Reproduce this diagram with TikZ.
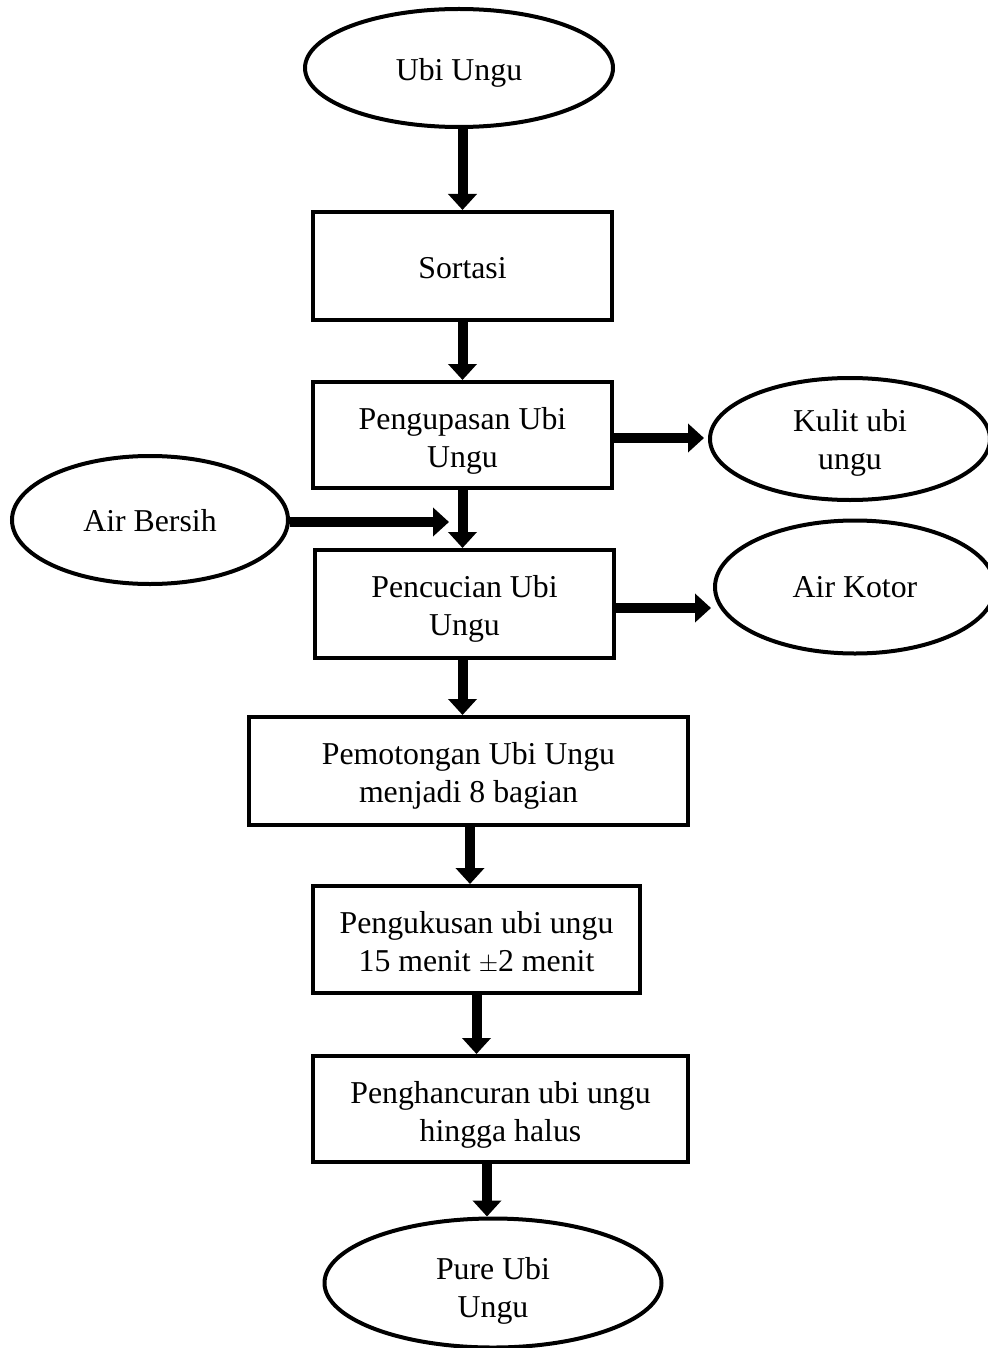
\documentclass[tikz,border=0pt]{standalone}
\usepackage{fontspec}
\setmainfont{Liberation Serif}
\usetikzlibrary{shapes.geometric,arrows.meta,calc}
\newcommand\flowfont{\fontsize{31.8}{38.5}\selectfont}
\begin{document}
\begin{tikzpicture}[x=1pt,y=-1pt,
  box/.style={draw,line width=4pt,rectangle,inner sep=0pt},
  oval/.style={draw,line width=4pt,ellipse,inner sep=0pt},
  txt/.style={font=\flowfont,align=center,inner sep=0pt,yshift=#1},
  txt/.default=0pt,
  flow/.style={line width=10pt,-{Triangle[width=28pt,length=16pt]}}]
\useasboundingbox (0,0) rectangle (987,1348);
% nodes
\node[oval,minimum width=308pt,minimum height=118pt,label={[txt=-5pt]center:Ubi Ungu}] (u1) at (459,68) {};
\node[box,minimum width=299pt,minimum height=108pt,label={[txt=-2pt]center:Sortasi}] (s1) at (462.5,266) {};
\node[box,minimum width=299pt,minimum height=106pt,label={[txt=-6pt]center:{Pengupasan Ubi\\Ungu}}] (s2) at (462.5,435) {};
\node[oval,minimum width=280pt,minimum height=122pt,label={[txt=-4pt]center:{Kulit ubi\\ungu}}] (k) at (850,439) {};
\node[oval,minimum width=276pt,minimum height=128pt,label={[txt=-1pt]center:Air Bersih}] (ab) at (150,520) {};
\node[box,minimum width=299pt,minimum height=108pt,label={[txt=-5pt]center:{Pencucian Ubi\\Ungu}}] (s3) at (464.5,604) {};
\node[oval,minimum width=280pt,minimum height=133pt,label={[txt=0pt]center:Air Kotor}] (ak) at (855,587) {};
\node[box,minimum width=439pt,minimum height=108pt,label={[txt=-5pt]center:{Pemotongan Ubi Ungu\\menjadi 8 bagian}}] (s4) at (468.5,771) {};
\node[box,minimum width=327pt,minimum height=107pt,label={[txt=-3pt]center:{Pengukusan ubi ungu\\15 menit $\pm$2 menit}}] (s5) at (476.5,939.5) {};
\node[box,minimum width=375pt,minimum height=106pt,label={[txt=-6pt]center:{Penghancuran ubi ungu\\hingga halus}}] (s6) at (500.5,1109) {};
\node[oval,minimum width=337pt,minimum height=129pt,label={[txt=-8pt]center:{Pure Ubi\\Ungu}}] (p) at (493,1283) {};
\coordinate (abend) at (449,522);
% connectors
\draw[flow] (u1.south -| s1.north) -- (s1.north);
\draw[flow] (s1.south) -- (s2.north);
\draw[flow] (s2.south) -- (s2.south |- s3.north);
\draw[flow] ([xshift=-2pt]s3.south) -- ([xshift=-2pt]s3.south |- s4.north);
\draw[flow] ([xshift=1.5pt]s4.south) -- ([xshift=1.5pt]s4.south |- s5.north);
\draw[flow] (s5.south) -- (s5.south |- s6.north);
\draw[flow] ([xshift=-13.5pt]s6.south) -- ([xshift=-13.5pt]s6.south |- p.north);
\draw[flow,shorten >=4pt] ([yshift=-3pt]s2.east) -- ([yshift=-3pt]s2.east -| k.west);
\draw[flow] (ab.east |- abend) -- (abend);
\draw[flow,shorten >=2pt] ([yshift=-4pt]s3.east) -- ([yshift=-4pt]s3.east -| ak.west);
\end{tikzpicture}
\end{document}
